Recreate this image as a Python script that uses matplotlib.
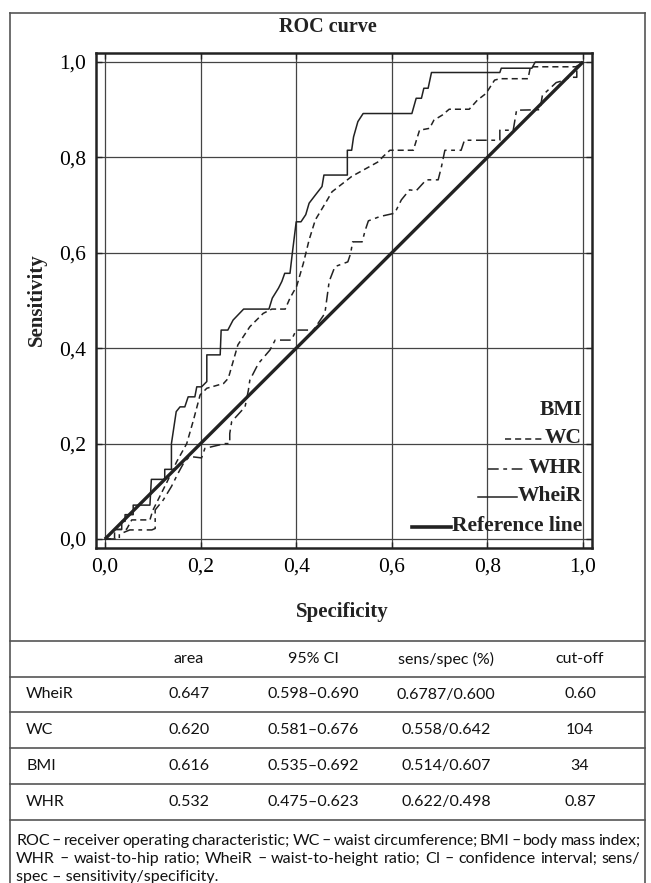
import matplotlib
matplotlib.use('Agg')
import matplotlib.pyplot as plt
from matplotlib.lines import Line2D

W, H = 651, 883

# ROC curves (x axis as printed, y = sensitivity)
wheir_x = [0.0, 0.02, 0.035, 0.035, 0.042, 0.042, 0.059, 0.059, 0.094, 0.097, 0.125, 0.125, 0.139, 0.139,
           0.149, 0.157, 0.167, 0.174, 0.188, 0.192, 0.202, 0.213, 0.213, 0.241, 0.243, 0.257, 0.268, 0.29,
           0.343, 0.35, 0.363, 0.37, 0.376, 0.387, 0.392, 0.4, 0.41, 0.42, 0.427, 0.44, 0.454, 0.458, 0.507,
           0.507, 0.516, 0.52, 0.529, 0.54, 0.642, 0.651, 0.662, 0.667, 0.676, 0.683, 0.826, 0.829, 0.893,
           0.9, 1.0]
wheir_y = [0.0, 0.02, 0.02, 0.037, 0.037, 0.051, 0.051, 0.071, 0.071, 0.125, 0.125, 0.146, 0.146, 0.2,
           0.267, 0.277, 0.277, 0.298, 0.298, 0.319, 0.319, 0.33, 0.386, 0.386, 0.438, 0.438, 0.459, 0.482,
           0.482, 0.505, 0.526, 0.54, 0.557, 0.557, 0.6, 0.665, 0.665, 0.68, 0.704, 0.721, 0.739, 0.763, 0.763,
           0.815, 0.815, 0.843, 0.875, 0.892, 0.892, 0.924, 0.924, 0.945, 0.945, 0.978, 0.978, 0.987, 0.987,
           1.0, 1.0]

wc_x = [0.0, 0.02, 0.02, 0.045, 0.056, 0.094, 0.1, 0.115, 0.13, 0.15, 0.171, 0.185, 0.199, 0.213, 0.248,
        0.258, 0.268, 0.278, 0.303, 0.331, 0.349, 0.377, 0.387, 0.401, 0.415, 0.427, 0.44, 0.461, 0.475,
        0.516, 0.572, 0.582, 0.596, 0.645, 0.658, 0.679, 0.688, 0.706, 0.72, 0.762, 0.779, 0.797, 0.815,
        0.826, 0.885, 0.89, 0.985, 1.0]
wc_y = [0.0, 0.0, 0.02, 0.02, 0.04, 0.04, 0.06, 0.09, 0.12, 0.162, 0.2, 0.249, 0.302, 0.316, 0.326,
        0.337, 0.372, 0.407, 0.445, 0.473, 0.482, 0.482, 0.505, 0.53, 0.578, 0.627, 0.669, 0.704, 0.728,
        0.76, 0.791, 0.802, 0.815, 0.815, 0.857, 0.861, 0.878, 0.889, 0.901, 0.901, 0.92, 0.934, 0.962,
        0.965, 0.965, 0.99, 0.99, 1.0]

whr_x = [0.0, 0.03, 0.03, 0.052, 0.098, 0.105, 0.105, 0.122, 0.139, 0.153, 0.165, 0.177, 0.202, 0.209,
         0.251, 0.261, 0.261, 0.265, 0.293, 0.3, 0.303, 0.321, 0.345, 0.356, 0.39, 0.4, 0.436, 0.46, 0.469,
         0.481, 0.508, 0.514, 0.518, 0.538, 0.544, 0.551, 0.575, 0.606, 0.62, 0.637, 0.651, 0.672, 0.697,
         0.704, 0.711, 0.745, 0.752, 0.826, 0.826, 0.854, 0.861, 0.91, 0.915, 0.944, 0.955, 0.973, 0.987,
         0.987, 1.0]
whr_y = [0.0, 0.0, 0.01, 0.019, 0.019, 0.022, 0.061, 0.082, 0.11, 0.138, 0.16, 0.173, 0.17, 0.19,
         0.2, 0.2, 0.221, 0.246, 0.277, 0.312, 0.333, 0.368, 0.396, 0.417, 0.417, 0.438, 0.438, 0.473, 0.54,
         0.571, 0.581, 0.599, 0.623, 0.623, 0.646, 0.667, 0.676, 0.683, 0.711, 0.732, 0.73, 0.753, 0.753,
         0.781, 0.815, 0.815, 0.836, 0.836, 0.857, 0.857, 0.899, 0.9, 0.93, 0.957, 0.96, 0.968, 0.968,
         0.99, 1.0]

ref_x = [0.0, 1.0]
ref_y = [0.0, 1.0]

ticks = [0.0, 0.2, 0.4, 0.6, 0.8, 1.0]
tick_labels = ['0,0', '0,2', '0,4', '0,6', '0,8', '1,0']

legend_names = ['BMI', 'WC', 'WHR', 'WheiR', 'Reference line']

# table under the chart
col_names = ['', 'area', '95% CI', 'sens/spec (%)', 'cut-off']
row_names = ['WheiR', 'WC', 'BMI', 'WHR']
area = ['0.647', '0.620', '0.616', '0.532']
ci = ['0.598\u20130.690', '0.581\u20130.676', '0.535\u20130.692', '0.475\u20130.623']
sens_spec = ['0.6787/0.600', '0.558/0.642', '0.514/0.607', '0.622/0.498']
cutoff = ['0.60', '104', '34', '0.87']

footnote = [
    'ROC \u2013 receiver operating characteristic; WC \u2013 waist circumference; BMI \u2013 body mass index;',
    'WHR \u2013 waist-to-hip ratio; WheiR \u2013 waist-to-height ratio; CI \u2013 confidence interval; sens/',
    'spec \u2013 sensitivity/specificity.',
]

serif = 'Liberation Serif'
sans = 'Lato'
ink = '#222222'


def fx(px):
    return px / W


def fy(py):
    return 1 - py / H


fig = plt.figure(figsize=(W / 100, H / 100), dpi=100)
ax = fig.add_axes([fx(96), fy(548), fx(592) - fx(96), fy(53) - fy(548)])

ax.plot(ref_x, ref_y, color=ink, lw=2.4, solid_capstyle='butt')
ax.plot(whr_x, whr_y, color=ink, lw=1.1, dashes=(7, 3, 2.5, 3))
ax.plot(wc_x, wc_y, color=ink, lw=1.1, dashes=(4, 2.6))
ax.plot(wheir_x, wheir_y, color=ink, lw=1.1)

ax.set_xlim(-0.0188, 1.0188)
ax.set_ylim(-0.0189, 1.0189)
ax.set_xticks(ticks)
ax.set_yticks(ticks)
ax.set_xticklabels(tick_labels, fontfamily=serif, fontsize=15.5)
ax.set_yticklabels(tick_labels, fontfamily=serif, fontsize=15.5)
ax.tick_params(direction='in', top=True, right=True, length=4, width=1, color=ink, pad=7)
ax.grid(True, color='#444444', lw=0.9)
for s in ax.spines.values():
    s.set_linewidth(1.8)
    s.set_color(ink)

# legend drawn by hand: right-aligned names with the line sample just left of each name
styles = [None, dict(lw=1.1, dashes=(4, 2.6)), dict(lw=1.1, dashes=(7, 3, 2.5, 3)),
          dict(lw=1.1), dict(lw=2.6)]
leg_y = [410, 438, 468, 496, 526]
fig.canvas.draw()
r = fig.canvas.get_renderer()
for name, st, py in zip(legend_names, styles, leg_y):
    t = fig.text(fx(582), fy(py), name, ha='right', va='center', fontfamily=serif,
                 fontweight='bold', fontsize=15.5, color=ink)
    if st is None:
        continue
    left = t.get_window_extent(r).x0
    fig.add_artist(Line2D([fx(left - 40), fx(left - 1)], [fy(py + 1), fy(py + 1)], color=ink, **st))

fig.text(fx(328), fy(27), 'ROC curve', ha='center', va='center', fontfamily=serif,
         fontweight='bold', fontsize=14.5, color=ink)
fig.text(fx(342), fy(612), 'Specificity', ha='center', va='center', fontfamily=serif,
         fontweight='bold', fontsize=15, color=ink)
fig.text(fx(37), fy(300), 'Sensitivity', ha='center', va='center', rotation=90, fontfamily=serif,
         fontweight='bold', fontsize=15, color=ink)

# outer frame
line_c = '#555555'
fig.add_artist(Line2D([fx(10), fx(10)], [fy(13), 0], color=line_c, lw=1.2))
fig.add_artist(Line2D([fx(645), fx(645)], [fy(13), 0], color=line_c, lw=1.2))
fig.add_artist(Line2D([fx(10), fx(645)], [fy(13), fy(13)], color=line_c, lw=1.2))

# table
row_lines = [641, 677, 712, 748, 784, 820]
for py in row_lines:
    fig.add_artist(Line2D([fx(10), fx(645)], [fy(py), fy(py)], color=line_c, lw=1.2))

col_x = [26, 189, 313, 446, 580]
rows = [col_names] + [[n, a, c, s, k] for n, a, c, s, k in zip(row_names, area, ci, sens_spec, cutoff)]
for i, row in enumerate(rows):
    py = (row_lines[i] + row_lines[i + 1]) / 2
    for j, val in enumerate(row):
        fig.text(fx(col_x[j]), fy(py), val, ha='left' if j == 0 else 'center', va='center',
                 fontfamily=sans, fontsize=11.5, color='#111111')

# footnote, justified like the print
foot_y = [841, 859, 877]
for k, (line, py) in enumerate(zip(footnote, foot_y)):
    words = line.split(' ')
    if k == len(footnote) - 1:
        fig.text(fx(16), fy(py), line, ha='left', va='center', fontfamily=sans, fontsize=11.5,
                 color='#111111')
        continue
    texts = [fig.text(0, fy(py), w, ha='left', va='center', fontfamily=sans, fontsize=11.5,
                      color='#111111') for w in words]
    widths = [t.get_window_extent(r).width for t in texts]
    gap = (640 - 16 - sum(widths)) / (len(words) - 1)
    x = 16
    for t, w in zip(texts, widths):
        t.set_x(fx(x))
        x += w + gap

fig.savefig('out.png', dpi=100)
